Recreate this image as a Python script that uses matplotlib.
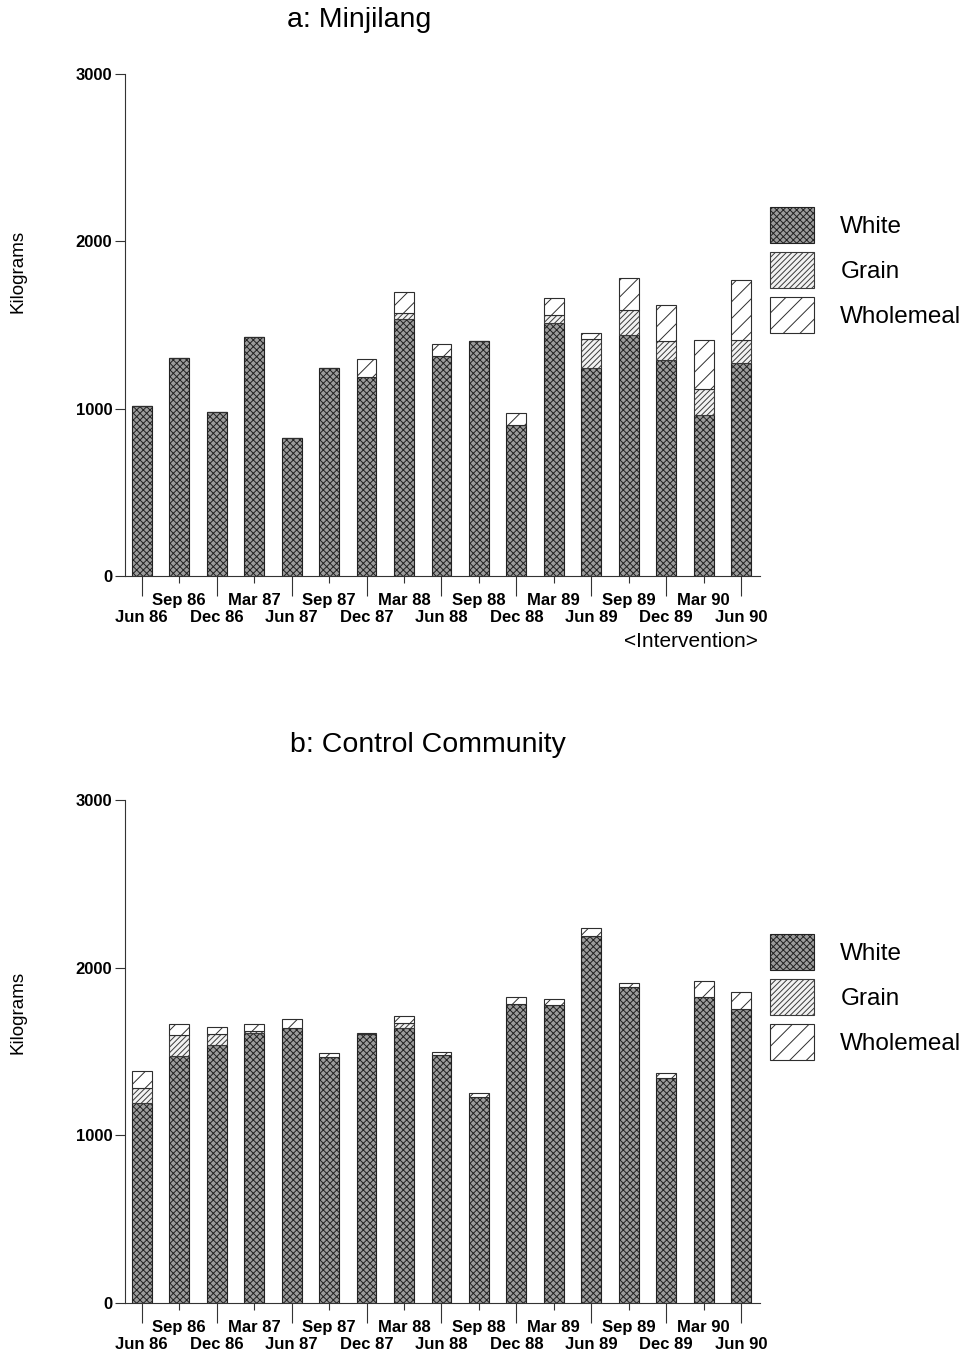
import numpy as np
import matplotlib.pyplot as plt
from matplotlib.patches import Patch

plt.rcParams['font.family'] = ['Liberation Sans', 'DejaVu Sans']
plt.rcParams['hatch.linewidth'] = 0.7

# quarterly sales, kilograms
quarters = ['Jun 86', 'Sep 86', 'Dec 86', 'Mar 87', 'Jun 87', 'Sep 87', 'Dec 87', 'Mar 88',
            'Jun 88', 'Sep 88', 'Dec 88', 'Mar 89', 'Jun 89', 'Sep 89', 'Dec 89', 'Mar 90', 'Jun 90']

# a: Minjilang
minj_white = [1015, 1300, 978, 1427, 822, 1245, 1187, 1537, 1312, 1405, 900, 1510, 1240, 1438, 1290, 960, 1270]
minj_grain = [0, 0, 0, 0, 0, 0, 0, 36, 0, 0, 0, 48, 177, 150, 113, 160, 140]
minj_wholemeal = [0, 0, 0, 0, 0, 0, 110, 126, 77, 0, 74, 100, 32, 191, 218, 291, 357]

# b: Control Community
ctrl_white = [1190, 1473, 1538, 1612, 1638, 1465, 1604, 1638, 1479, 1230, 1783, 1777, 2188, 1882, 1340, 1826, 1751]
ctrl_grain = [94, 125, 64, 10, 0, 0, 0, 30, 0, 0, 0, 0, 0, 0, 0, 0, 0]
ctrl_wholemeal = [101, 66, 46, 42, 55, 24, 6, 43, 16, 24, 44, 36, 50, 24, 33, 94, 105]

styles = {
    'White': dict(facecolor='#9c9c9c', edgecolor='#222222', hatch='xxxxx'),
    'Grain': dict(facecolor='#f2f2f2', edgecolor='#3a3a3a', hatch='//////'),
    'Wholemeal': dict(facecolor='white', edgecolor='#2e2e2e', hatch='//'),
}


def draw_panel(ax, white, grain, wholemeal):
    x = np.arange(len(quarters))
    w = 0.53
    ax.bar(x, white, w, linewidth=0.8, **styles['White'])
    ax.bar(x, grain, w, bottom=white, linewidth=0.8, **styles['Grain'])
    ax.bar(x, wholemeal, w, bottom=np.add(white, grain), linewidth=0.8, **styles['Wholemeal'])

    ax.set_xlim(-0.45, 16.5)
    ax.set_ylim(0, 3000)
    ax.set_yticks([0, 1000, 2000, 3000])
    ax.tick_params(axis='y', length=7, width=0.8, labelsize=12, pad=2, color='#333333')
    for lab in ax.get_yticklabels():
        lab.set_fontweight('bold')

    ax.set_xticks(x[::2])
    ax.set_xticklabels(quarters[::2], fontsize=12, fontweight='bold')
    ax.set_xticks(x[1::2], minor=True)
    ax.set_xticklabels(quarters[1::2], minor=True, fontsize=12, fontweight='bold')
    ax.tick_params(axis='x', which='major', length=14.5, width=0.8, pad=10, color='#333333')
    ax.tick_params(axis='x', which='minor', length=5, width=0.8, pad=7.5, color='#333333')

    for s in ['top', 'right']:
        ax.spines[s].set_visible(False)
    for s in ['left', 'bottom']:
        ax.spines[s].set_linewidth(0.8)
        ax.spines[s].set_color('#333333')


fig = plt.figure(figsize=(9.68, 13.59), dpi=100)
ax_a = fig.add_axes([0.129, 0.5762, 0.656, 0.3694])
ax_b = fig.add_axes([0.129, 0.0412, 0.656, 0.3701])

draw_panel(ax_a, minj_white, minj_grain, minj_wholemeal)
draw_panel(ax_b, ctrl_white, ctrl_grain, ctrl_wholemeal)

ax_a.text(14.65, -0.13, '<Intervention>', transform=ax_a.get_xaxis_transform(),
          ha='center', va='center', fontsize=15)

fig.text(0.2965, 0.9853, 'a: Minjilang', fontsize=20.5, ha='left', va='center')
fig.text(0.2995, 0.4518, 'b: Control Community', fontsize=20.5, ha='left', va='center')
fig.text(0.0186, 0.800, 'Kilograms', fontsize=13.5, rotation=90, ha='center', va='center')
fig.text(0.0186, 0.2553, 'Kilograms', fontsize=13.5, rotation=90, ha='center', va='center')

handles = [Patch(label=k, linewidth=0.8, **v) for k, v in styles.items()]
for yc in [0.8010, 0.2665]:
    fig.legend(handles=handles, loc='center left', bbox_to_anchor=(0.795, yc), frameon=False,
               fontsize=17.5, handlelength=1.81, handleheight=1.9, labelspacing=0.37,
               handletextpad=1.1, borderpad=0, borderaxespad=0)

fig.savefig('out.png', dpi=100)
